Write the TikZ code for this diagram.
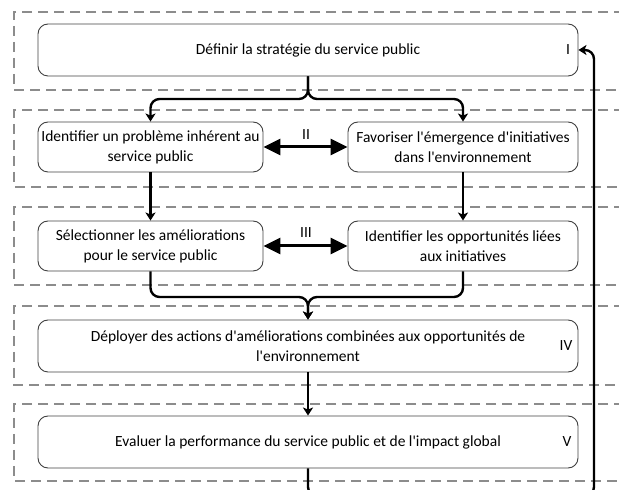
\documentclass[tikz,border=0pt]{standalone}
\usepackage{fontspec}
\setmainfont{Carlito}[Ligatures=TeXOff]
\usetikzlibrary{arrows.meta}

\begin{document}
\begin{tikzpicture}[x=1pt,y=1pt,
    stage/.style={draw=black!75,line width=0.9pt,rounded corners=10pt,align=center,
      font=\fontsize{15.5}{20}\selectfont,inner sep=0pt},
    wide/.style={stage,minimum width=540pt,minimum height=52pt},
    half/.style={stage,minimum width=225pt,minimum height=50pt},
    band/.style={draw=black!45,line width=1.1pt,dash pattern=on 10pt off 6pt},
    link/.style={line width=2.4pt,-{Stealth[length=8pt,width=10pt,inset=2pt]}},
    swap/.style={line width=3pt,{Triangle[length=17pt,width=16pt]}-{Triangle[length=17pt,width=16pt]}},
    num/.style={font=\fontsize{15.5}{18}\selectfont}]
  \useasboundingbox (0,0) rectangle (619,490);
  \clip (0,0) rectangle (619,490);
  \foreach \hi/\lo in {478/400,380/303,283/205,184/105,86/9} {  %one dashed band per level
    \draw[band] (640,\hi) -- (14,\hi) -- (14,\lo) -- (640,\lo);
  }

  \node[wide] (strat) at (308,440) {Définir la stratégie du service public};
  \node[half] (probl) at (150.5,343) {Identifier un problème inhérent au\\service public};
  \node[half,minimum width=230pt] (initv) at (463,343) {Favoriser l'émergence d'initiatives\\dans l'environnement};
  \node[half] (amel) at (150.5,244) {Sélectionner les améliorations\\pour le service public};
  \node[half,minimum width=230pt] (oppor) at (463,244) {Identifier les opportunités liées\\aux initiatives};
  \node[wide] (deploy) at (308,144) {Déployer des actions d'améliorations combinées aux opportunités de\\l'environnement};
  \node[wide] (evalu) at (308,48) {Evaluer la performance du service public et de l'impact global};

  \node[num] (n1) at (568,440) {I};
  \node[num] (n2) at (306,355) {II};
  \node[num] (n3) at (306,257) {III};
  \node[num] (n4) at (566,144) {IV};
  \node[num] (n5) at (567,48) {V};

  \coordinate (fork1) at (308,391);
  \coordinate (fork2) at (308,193);
  \coordinate (back) at (594,-6);

  \draw[link,rounded corners=9pt] (strat.south) |- (probl.north |- fork1) -- (probl.north);
  \draw[link,rounded corners=9pt] (strat.south) |- (initv.north |- fork1) -- (initv.north);
  \draw[link] (probl) -- (amel);
  \draw[link] (initv) -- (oppor);
  \draw[link,rounded corners=9pt] (amel.south) |- (fork2) -- (deploy.north);
  \draw[link,rounded corners=9pt] (oppor.south) |- (fork2) -- (deploy.north);
  \draw[link] (deploy) -- (evalu);
  \draw[link,rounded corners=9pt] (evalu.south) |- (back) |- (strat.east); %back to the strategy

  \draw[swap] (probl) -- (initv);
  \draw[swap] (amel) -- (oppor);
\end{tikzpicture}
\end{document}
